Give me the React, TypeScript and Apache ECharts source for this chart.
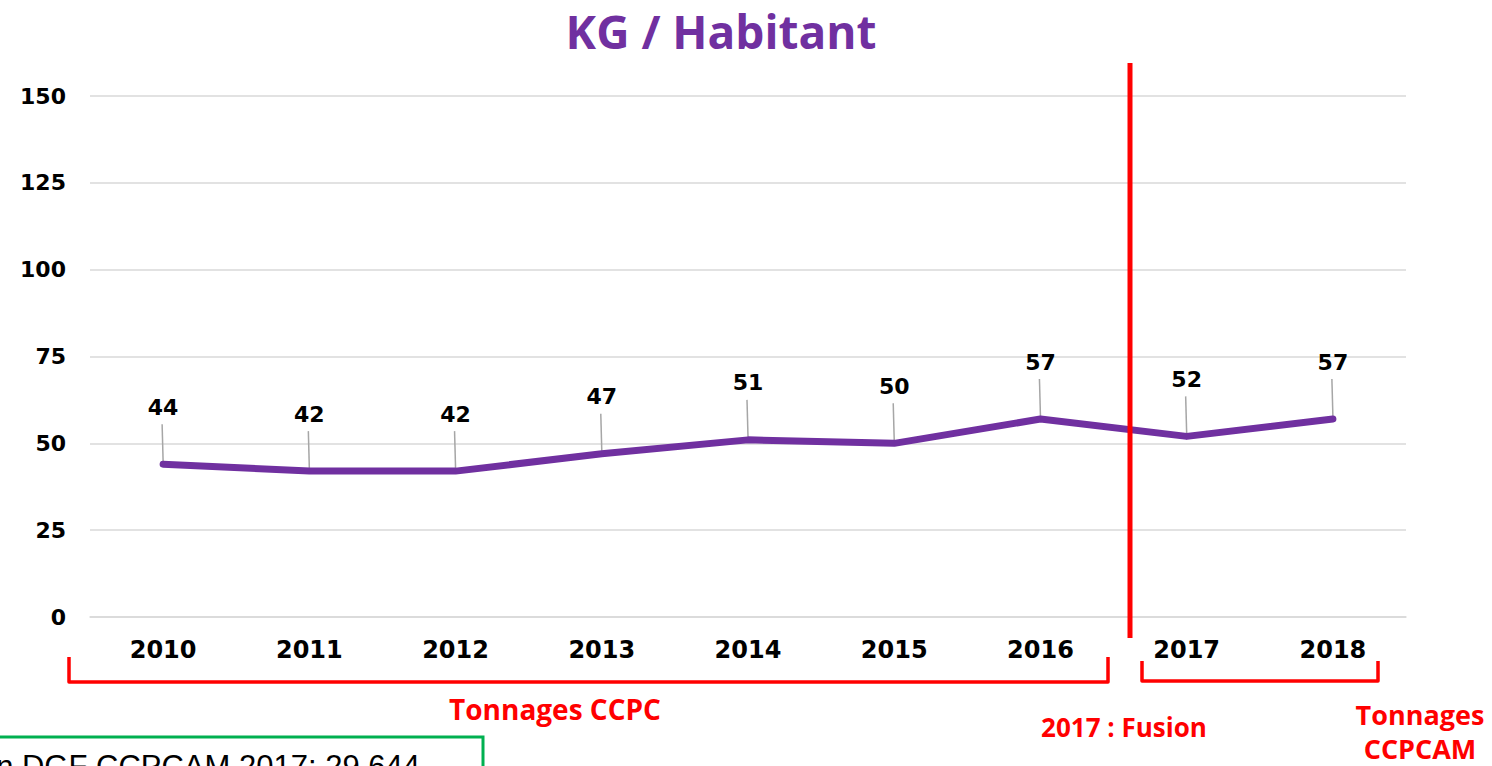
import React, { useEffect, useRef } from "react";
import * as echarts from "echarts";

const years = ["2010", "2011", "2012", "2013", "2014", "2015", "2016", "2017", "2018"];
const kgPerHabitant = [44, 42, 42, 47, 51, 50, 57, 52, 57];
const yTicks = { min: 0, max: 150, interval: 25 };

const RED = "#ff0000";
const PURPLE = "#7030a0";

export default function App() {
  const ref = useRef<HTMLDivElement>(null);
  useEffect(() => {
    if (!ref.current) return;
    const chart = echarts.init(ref.current, null, { renderer: "svg" });
    const option = {
      animation: false,
      backgroundColor: "#ffffff",
      grid: { left: 90, right: 86, top: 96, bottom: 149 },
      title: {
        text: "KG / Habitant",
        left: 716,
        top: 3,
        textAlign: "center",
        textStyle: {
          color: PURPLE,
          fontSize: 46,
          fontWeight: "bold",
          fontFamily: "Open Sans",
        },
      },
      xAxis: {
        type: "category",
        data: years,
        boundaryGap: true,
        axisLine: { show: true, lineStyle: { color: "#d9d9d9", width: 1.5 } },
        axisTick: { show: false },
        axisLabel: {
          color: "#000",
          fontSize: 24,
          fontWeight: "bold",
          fontFamily: "DejaVu Sans",
          margin: 21,
        },
      },
      yAxis: {
        type: "value",
        min: yTicks.min,
        max: yTicks.max,
        interval: yTicks.interval,
        axisLine: { show: false },
        axisTick: { show: false },
        splitLine: { lineStyle: { color: "#d9d9d9", width: 1.5 } },
        axisLabel: {
          color: "#000",
          fontSize: 22,
          fontWeight: "bold",
          fontFamily: "DejaVu Sans",
          margin: 24,
        },
      },
      series: [
        {
          type: "line",
          data: kgPerHabitant,
          symbol: "none",
          lineStyle: { color: PURPLE, width: 7, cap: "round", join: "round" },
          z: 3,
        },
        {
          type: "custom",
          data: kgPerHabitant.map((v, i) => [i, v]),
          z: 2,
          silent: true,
          renderItem: (params: any, api: any) => {
            const p = api.coord([api.value(0), api.value(1)]);
            return {
              type: "group",
              children: [
                {
                  type: "line",
                  shape: { x1: p[0], y1: p[1] - 3, x2: p[0] - 1, y2: p[1] - 40 },
                  style: { stroke: "#a6a6a6", lineWidth: 1.5 },
                },
                {
                  type: "text",
                  x: p[0],
                  y: p[1] - 57,
                  style: {
                    text: String(api.value(1)),
                    fill: "#000",
                    fontSize: 22,
                    fontWeight: "bold",
                    fontFamily: "DejaVu Sans",
                    textAlign: "center",
                    textVerticalAlign: "middle",
                  },
                },
              ],
            };
          },
        },
      ],
      graphic: [
        {
          type: "line",
          shape: { x1: 1130, y1: 63, x2: 1130, y2: 638 },
          style: { stroke: RED, lineWidth: 5 },
          z: 10,
        },
        {
          type: "polyline",
          shape: {
            points: [
              [69, 657],
              [69, 682],
              [1108, 682],
              [1108, 657],
            ],
          },
          style: { stroke: RED, lineWidth: 3.5, fill: null, lineJoin: "round" },
        },
        {
          type: "polyline",
          shape: {
            points: [
              [1142, 661],
              [1142, 681],
              [1378, 681],
              [1378, 661],
            ],
          },
          style: { stroke: RED, lineWidth: 3.5, fill: null, lineJoin: "round" },
        },
        {
          type: "text",
          x: 555,
          y: 709,
          style: {
            text: "Tonnages CCPC",
            fill: RED,
            fontSize: 28,
            fontWeight: "bold",
            fontFamily: "Open Sans",
            textAlign: "center",
            textVerticalAlign: "middle",
          },
        },
        {
          type: "text",
          x: 1124,
          y: 727,
          style: {
            text: "2017 : Fusion",
            fill: RED,
            fontSize: 26,
            fontWeight: "bold",
            fontFamily: "Open Sans",
            textAlign: "center",
            textVerticalAlign: "middle",
          },
        },
        {
          type: "text",
          x: 1420,
          y: 731,
          style: {
            text: "Tonnages\nCCPCAM",
            fill: RED,
            fontSize: 27,
            fontWeight: "bold",
            fontFamily: "Open Sans",
            lineHeight: 34,
            textAlign: "center",
            textVerticalAlign: "middle",
          },
        },
        {
          type: "rect",
          shape: { x: -10, y: 737, width: 493, height: 60 },
          style: { stroke: "#00b050", lineWidth: 3, fill: null },
        },
        {
          type: "text",
          x: 420,
          y: 751,
          style: {
            text: "Population DGF CCPCAM 2017: 29 644",
            fill: "#000",
            fontSize: 31,
            fontFamily: "Liberation Sans",
            textAlign: "right",
            textVerticalAlign: "top",
          },
        },
      ],
    };
    chart.setOption(option as any);
    return () => chart.dispose();
  }, []);
  return (
    <div
      ref={ref}
      style={{ position: "fixed", left: 0, top: 0, width: 1492, height: 766 }}
    />
  );
}
